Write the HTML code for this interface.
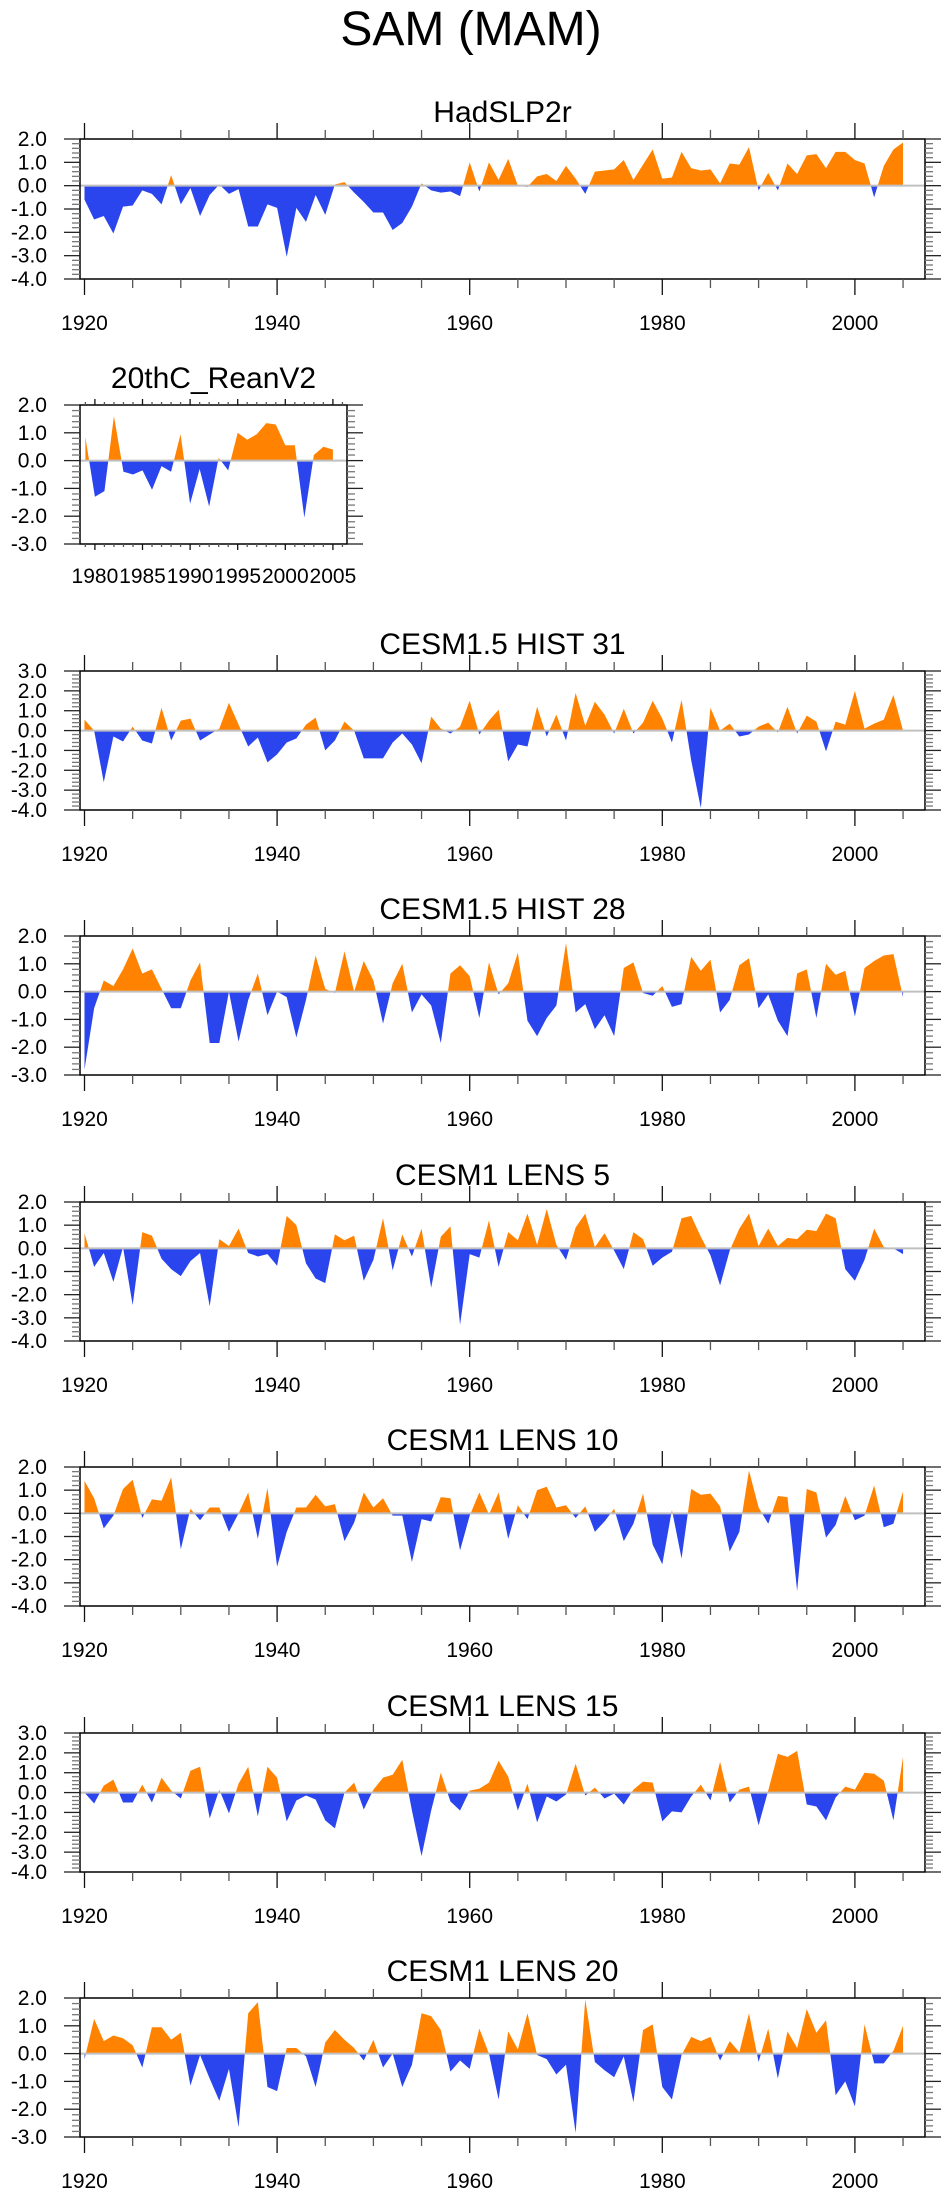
<!DOCTYPE html>
<html><head><meta charset="utf-8"><title>SAM (MAM)</title>
<style>
html,body{margin:0;padding:0;background:#fff;}
svg text{font-family:"Liberation Sans",Arial,sans-serif;fill:#000;}
</style></head>
<body>
<svg id="chart" width="943" height="2196" viewBox="0 0 943 2196" xmlns="http://www.w3.org/2000/svg">
<text x="471" y="45" font-size="48" text-anchor="middle">SAM (MAM)</text>
</svg>
<script>
const years1920 = Array.from({length:86},(_,i)=>1920+i);
const years1979 = Array.from({length:27},(_,i)=>1979+i);
const hadslp = [-0.6,-1.45,-1.3,-2.05,-0.9,-0.85,-0.2,-0.35,-0.8,0.45,-0.8,-0.1,-1.3,-0.4,0.05,-0.35,-0.15,-1.75,-1.75,-0.8,-0.95,-3.05,-0.95,-1.55,-0.4,-1.25,0.05,0.15,-0.3,-0.7,-1.15,-1.15,-1.9,-1.6,-0.9,0.1,-0.2,-0.3,-0.25,-0.45,1.0,-0.25,1.0,0.25,1.15,0.0,-0.05,0.4,0.5,0.2,0.85,0.3,-0.35,0.6,0.65,0.7,1.1,0.25,0.9,1.55,0.3,0.35,1.45,0.75,0.65,0.7,0.1,0.95,0.9,1.65,-0.2,0.55,-0.2,0.95,0.5,1.3,1.35,0.75,1.45,1.45,1.1,0.95,-0.5,0.85,1.55,1.85];
const reanV2 = [0.85,-1.3,-1.1,1.6,-0.4,-0.5,-0.35,-1.05,-0.2,-0.4,0.95,-1.55,-0.3,-1.65,0.1,-0.35,1.0,0.75,0.95,1.35,1.3,0.55,0.55,-2.05,0.2,0.5,0.4];
const hist31 = [0.55,0.0,-2.6,-0.3,-0.55,0.2,-0.5,-0.65,1.15,-0.5,0.5,0.6,-0.5,-0.2,0.1,1.4,0.3,-0.8,-0.35,-1.6,-1.2,-0.6,-0.4,0.3,0.65,-1.0,-0.5,0.45,0.0,-1.4,-1.4,-1.4,-0.6,-0.15,-0.7,-1.65,0.7,0.1,-0.15,0.2,1.5,-0.2,0.5,1.05,-1.55,-0.7,-0.8,1.2,-0.3,0.8,-0.5,1.9,0.25,1.45,0.8,-0.15,1.1,-0.15,0.4,1.5,0.6,-0.6,1.55,-1.5,-3.9,1.15,0.0,0.35,-0.3,-0.2,0.2,0.4,-0.1,1.2,-0.15,0.75,0.45,-1.05,0.45,0.3,2.0,0.1,0.35,0.55,1.8,0.0];
const hist28 = [-2.8,-0.6,0.4,0.2,0.8,1.55,0.65,0.8,0.1,-0.6,-0.6,0.4,1.05,-1.85,-1.85,0.0,-1.8,-0.3,0.65,-0.85,0.0,-0.2,-1.65,-0.3,1.3,0.1,-0.05,1.45,0.0,1.1,0.4,-1.15,0.3,1.0,-0.75,-0.1,-0.5,-1.85,0.65,0.95,0.55,-0.95,1.05,-0.1,0.3,1.4,-1.05,-1.6,-0.95,-0.5,1.75,-0.75,-0.45,-1.35,-0.85,-1.6,0.85,1.05,-0.05,-0.15,0.2,-0.55,-0.45,1.25,0.75,1.15,-0.75,-0.3,0.95,1.2,-0.6,-0.1,-1.05,-1.6,0.65,0.8,-0.95,1.0,0.6,0.75,-0.9,0.85,1.1,1.3,1.35,-0.2];
const lens5 = [0.65,-0.8,-0.2,-1.45,0.05,-2.45,0.7,0.55,-0.45,-0.9,-1.2,-0.55,-0.2,-2.5,0.4,0.1,0.85,-0.2,-0.35,-0.25,-0.75,1.4,1.0,-0.65,-1.3,-1.5,0.6,0.35,0.55,-1.4,-0.5,1.3,-0.95,0.6,-0.35,0.85,-1.7,0.5,0.95,-3.3,-0.25,-0.4,1.2,-0.8,0.7,0.35,1.5,0.15,1.7,0.15,-0.5,0.9,1.5,0.05,0.65,-0.1,-0.9,0.7,0.4,-0.75,-0.4,-0.15,1.3,1.4,0.5,-0.3,-1.6,-0.1,0.85,1.5,0.1,0.85,0.1,0.45,0.4,0.8,0.75,1.5,1.3,-0.9,-1.4,-0.5,0.85,0.05,0.0,-0.25];
const lens10 = [1.4,0.65,-0.65,-0.1,1.05,1.45,-0.2,0.6,0.55,1.55,-1.55,0.2,-0.3,0.25,0.25,-0.8,0.0,0.9,-1.1,1.1,-2.3,-0.8,0.25,0.25,0.8,0.3,0.4,-1.2,-0.4,0.9,0.25,0.65,-0.1,-0.1,-2.1,-0.25,-0.35,0.7,0.65,-1.6,-0.1,0.9,-0.05,0.9,-1.1,0.35,-0.25,1.0,1.15,0.25,0.35,-0.2,0.3,-0.8,-0.35,0.2,-1.2,-0.45,0.85,-1.35,-2.2,0.15,-1.95,1.05,0.8,0.85,0.3,-1.65,-0.8,1.85,0.25,-0.45,0.75,0.7,-3.35,1.05,0.9,-1.05,-0.5,0.75,-0.3,-0.1,1.2,-0.6,-0.45,0.95];
const lens15 = [0.0,-0.55,0.35,0.65,-0.5,-0.5,0.4,-0.5,0.75,0.1,-0.3,1.1,1.3,-1.3,0.15,-1.05,0.45,1.3,-1.2,1.3,0.75,-1.45,-0.4,-0.15,-0.35,-1.4,-1.8,0.0,0.5,-0.85,0.15,0.75,0.9,1.65,-0.9,-3.2,-0.9,1.0,-0.45,-0.9,0.1,0.2,0.5,1.6,0.8,-0.9,0.45,-1.5,-0.2,-0.45,-0.1,1.45,-0.15,0.25,-0.3,-0.05,-0.6,0.15,0.55,0.5,-1.45,-0.95,-1.0,-0.2,0.4,-0.4,1.55,-0.5,0.15,0.3,-1.65,0.1,1.95,1.8,2.1,-0.6,-0.7,-1.4,-0.25,0.3,0.15,1.0,0.95,0.6,-1.4,1.8];
const lens20 = [-0.2,1.25,0.45,0.65,0.55,0.3,-0.5,0.95,0.95,0.5,0.75,-1.15,-0.05,-0.9,-1.7,-0.55,-2.65,1.45,1.85,-1.2,-1.35,0.2,0.2,-0.1,-1.2,0.4,0.85,0.5,0.2,-0.25,0.5,-0.5,0.0,-1.2,-0.4,1.45,1.35,0.85,-0.65,-0.25,-0.55,0.9,0.0,-1.65,0.8,0.15,1.45,-0.05,-0.2,-0.75,-0.4,-2.85,1.95,-0.3,-0.6,-0.85,-0.1,-1.75,0.85,1.05,-1.2,-1.65,-0.05,0.6,0.45,0.6,-0.25,0.45,0.05,1.45,-0.3,0.9,-0.9,0.8,0.2,1.6,0.75,1.2,-1.5,-1.0,-1.9,1.05,-0.35,-0.35,0.1,1.0];

const titles = ["HadSLP2r","20thC_ReanV2","CESM1.5 HIST 31","CESM1.5 HIST 28","CESM1 LENS 5","CESM1 LENS 10","CESM1 LENS 15","CESM1 LENS 20"];
const yMaxes = [2,2,3,2,2,2,3,2];
const yMins = [-4,-3,-4,-3,-4,-4,-4,-3];

const NS="http://www.w3.org/2000/svg";
const svg=document.getElementById('chart');
function mk(tag,attrs,parent){const e=document.createElementNS(NS,tag);for(const k in attrs)e.setAttribute(k,attrs[k]);(parent||svg).appendChild(e);return e;}

const panels=[
 {top:139,bottom:279,left:80,right:925,x0:1920,x0px:84.5,ppy:9.63,years:years1920,vals:hadslp,maj:20,min:5,ml:16,nl:9},
 {top:405,bottom:544,left:80,right:347,x0:1980,x0px:94.9,ppy:9.52,years:years1979,vals:reanV2,maj:5,min:1,ml:6,nl:3},
 {top:671,bottom:810,left:80,right:925,x0:1920,x0px:84.5,ppy:9.63,years:years1920,vals:hist31,maj:20,min:5,ml:16,nl:9},
 {top:936,bottom:1075,left:80,right:925,x0:1920,x0px:84.5,ppy:9.63,years:years1920,vals:hist28,maj:20,min:5,ml:16,nl:9},
 {top:1202,bottom:1341,left:80,right:925,x0:1920,x0px:84.5,ppy:9.63,years:years1920,vals:lens5,maj:20,min:5,ml:16,nl:9},
 {top:1467,bottom:1606,left:80,right:925,x0:1920,x0px:84.5,ppy:9.63,years:years1920,vals:lens10,maj:20,min:5,ml:16,nl:9},
 {top:1733,bottom:1872,left:80,right:925,x0:1920,x0px:84.5,ppy:9.63,years:years1920,vals:lens15,maj:20,min:5,ml:16,nl:9},
 {top:1998,bottom:2137,left:80,right:925,x0:1920,x0px:84.5,ppy:9.63,years:years1920,vals:lens20,maj:20,min:5,ml:16,nl:9}
];

panels.forEach((p,i)=>{
  const g=mk('g',{});
  
  
  const ymax=yMaxes[i], ymin=yMins[i];
  const X=yr=>p.x0px+(yr-p.x0)*p.ppy;
  const Y=v=>p.top+(ymax-v)/(ymax-ymin)*(p.bottom-p.top);
  const y0=Y(0);
  const t=mk('text',{x:(p.left+p.right)/2,y:p.top-17,'font-size':30,'text-anchor':'middle'},g);
  t.textContent=titles[i];
  
  
  const cid='c'+i;
  const cu=mk('clipPath',{id:cid+'u'},g); mk('rect',{x:p.left,y:p.top,width:p.right-p.left,height:y0-p.top},cu);
  const cd=mk('clipPath',{id:cid+'d'},g); mk('rect',{x:p.left,y:y0,width:p.right-p.left,height:p.bottom-y0},cd);
  let pts=[X(p.years[0])+','+y0];
  p.years.forEach((yr,k)=>pts.push(X(yr)+','+Y(p.vals[k])));
  pts.push(X(p.years[p.years.length-1])+','+y0);
  const pos=mk('polygon',{points:pts.join(' '),fill:'#ff8300','clip-path':'url(#'+cid+'u)'},g);
  
  
  const neg=mk('polygon',{points:pts.join(' '),fill:'#2a45ee','clip-path':'url(#'+cid+'d)'},g);
  
  
  const zl=mk('line',{x1:p.left,x2:p.right,y1:y0,y2:y0,stroke:'#c0c0c0','stroke-width':2},g);
  
  
  const box=mk('rect',{x:p.left,y:p.top,width:p.right-p.left,height:p.bottom-p.top,fill:'none',stroke:'#000','stroke-width':1.5},g);
  
  
  for(let v=ymin; v<=ymax+1e-6; v+=0.2){
    const vv=Math.round(v*10)/10, y=Y(vv);
    const major=Math.abs(vv-Math.round(vv))<1e-6;
    const len=major?16:8;
    mk('line',{x1:p.left-len,x2:p.left,y1:y,y2:y,stroke:major?'#222':'#777','stroke-width':1.3},g);
    mk('line',{x1:p.right,x2:p.right+len,y1:y,y2:y,stroke:major?'#222':'#777','stroke-width':1.3},g);
    if(major){
      const lt=mk('text',{x:47,y:y+7,'font-size':21,'text-anchor':'end'},g);
      lt.textContent=vv.toFixed(1);
      
      
    }
  }
  const yStart=Math.ceil((p.left-p.x0px)/p.ppy+p.x0), yEnd=Math.floor((p.right-p.x0px)/p.ppy+p.x0);
  for(let yr=yStart; yr<=yEnd; yr++){
    if(yr%p.min) continue;
    const major=yr%p.maj===0, len=major?p.ml:p.nl, x=X(yr);
    mk('line',{x1:x,x2:x,y1:p.top-len,y2:p.top,stroke:major?'#111':'#555','stroke-width':1.3},g);
    mk('line',{x1:x,x2:x,y1:p.bottom,y2:p.bottom+len,stroke:major?'#111':'#555','stroke-width':1.3},g);
    if(major){
      const xt=mk('text',{x:x,y:p.bottom+(i===1?39:51),'font-size':21,'text-anchor':'middle'},g);
      xt.textContent=yr;
      
      
    }
  }
});
</script>
</body></html>
